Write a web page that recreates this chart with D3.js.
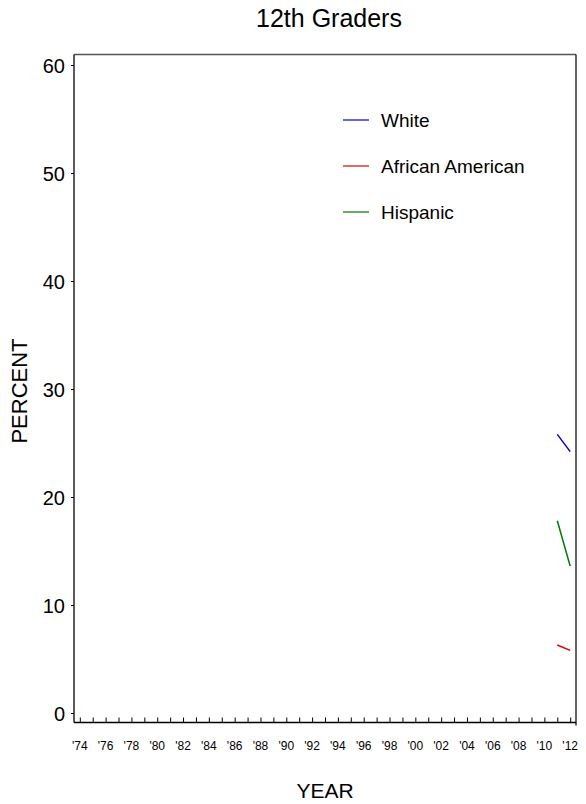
<!DOCTYPE html>
<html>
<head>
<meta charset="utf-8">
<script src="https://cdn.jsdelivr.net/npm/d3@7/dist/d3.min.js"></script>
<style>
  html, body { margin: 0; padding: 0; background: #fff; }
  text { font-family: "Liberation Sans", Arial, sans-serif; fill: #000; }
</style>
</head>
<body>
<svg id="chart" width="586" height="804"></svg>
<script>
const years = [2011, 2012];
const seriesNames = ["White", "African American", "Hispanic"];
const seriesColors = ["#0000cc", "#dd0000", "#007700"];
const whiteValues = [25.8, 24.2];
const africanAmericanValues = [6.3, 5.8];
const hispanicValues = [17.8, 13.6];
const yTicks = [0, 10, 20, 30, 40, 50, 60];
const xTickYears = d3.range(1974, 2013);
const xLabelYears = d3.range(1974, 2013, 2);

const series = [whiteValues, africanAmericanValues, hispanicValues];

const svg = d3.select("#chart");
const L = 74, R = 576, T = 54.5, B = 722.5;

const x = d3.scaleLinear().domain([1973.55, 2012.45]).range([L, R]);
const y = d3.scaleLinear().domain([0, 60]).range([713, 65]);

// frame
svg.append("line").attr("x1", L).attr("x2", R).attr("y1", T).attr("y2", T)
  .attr("stroke", "#555").attr("stroke-width", 1.3);
svg.append("line").attr("x1", R).attr("x2", R).attr("y1", T).attr("y2", B + 3)
  .attr("stroke", "#111").attr("stroke-width", 1.3);

// y axis
const yAxis = d3.axisLeft(y).tickValues(yTicks).tickSize(3).tickPadding(6).tickFormat(d3.format("d"));
const gy = svg.append("g").attr("transform", `translate(${L},0)`).call(yAxis);
gy.select(".domain").attr("d", `M0,${T}V${B}`).attr("stroke", "#000").attr("stroke-width", 1.3);
gy.selectAll(".tick line").attr("stroke", "#000").attr("stroke-width", 1);
gy.selectAll(".tick text").style("font-size", "20px").attr("dy", "0.35em")
  .style("font-family", '"Liberation Sans", Arial, sans-serif');

// x axis (ticks upward)
const xAxis = d3.axisBottom(x).tickValues(xTickYears).tickSize(-5).tickFormat("");
const gx = svg.append("g").attr("transform", `translate(0,${B})`).call(xAxis);
gx.select(".domain").attr("d", `M${L},0H${R}`).attr("stroke", "#000").attr("stroke-width", 1.3);
gx.selectAll(".tick line").attr("stroke", "#000").attr("stroke-width", 1);

svg.append("g").selectAll("text").data(xLabelYears).join("text")
  .attr("x", d => x(d)).attr("y", 750)
  .attr("text-anchor", "middle").style("font-size", "12px")
  .text(d => "'" + String(d % 100).padStart(2, "0"));

// data lines
const line = d3.line().x((d, i) => x(years[i])).y(d => y(d));
series.forEach((vals, i) => {
  svg.append("path").datum(vals).attr("d", line)
    .attr("fill", "none").attr("stroke", seriesColors[i]).attr("stroke-width", 1.5);
});

// legend
const lg = svg.append("g");
seriesNames.forEach((name, i) => {
  const ly = 120 + i * 46;
  lg.append("line").attr("x1", 343).attr("x2", 369).attr("y1", ly).attr("y2", ly)
    .attr("stroke", seriesColors[i]).attr("stroke-width", 1.2);
  lg.append("text").attr("x", 381).attr("y", ly + 7).style("font-size", "19px").text(name);
});

// titles
svg.append("text").attr("x", 329).attr("y", 27).attr("text-anchor", "middle")
  .style("font-size", "25px").text("12th Graders");
svg.append("text").attr("x", 325).attr("y", 798).attr("text-anchor", "middle")
  .style("font-size", "21px").text("YEAR");
svg.append("text").attr("transform", "translate(27,391) rotate(-90)").attr("text-anchor", "middle")
  .style("font-size", "22px").text("PERCENT");
</script>
</body>
</html>
